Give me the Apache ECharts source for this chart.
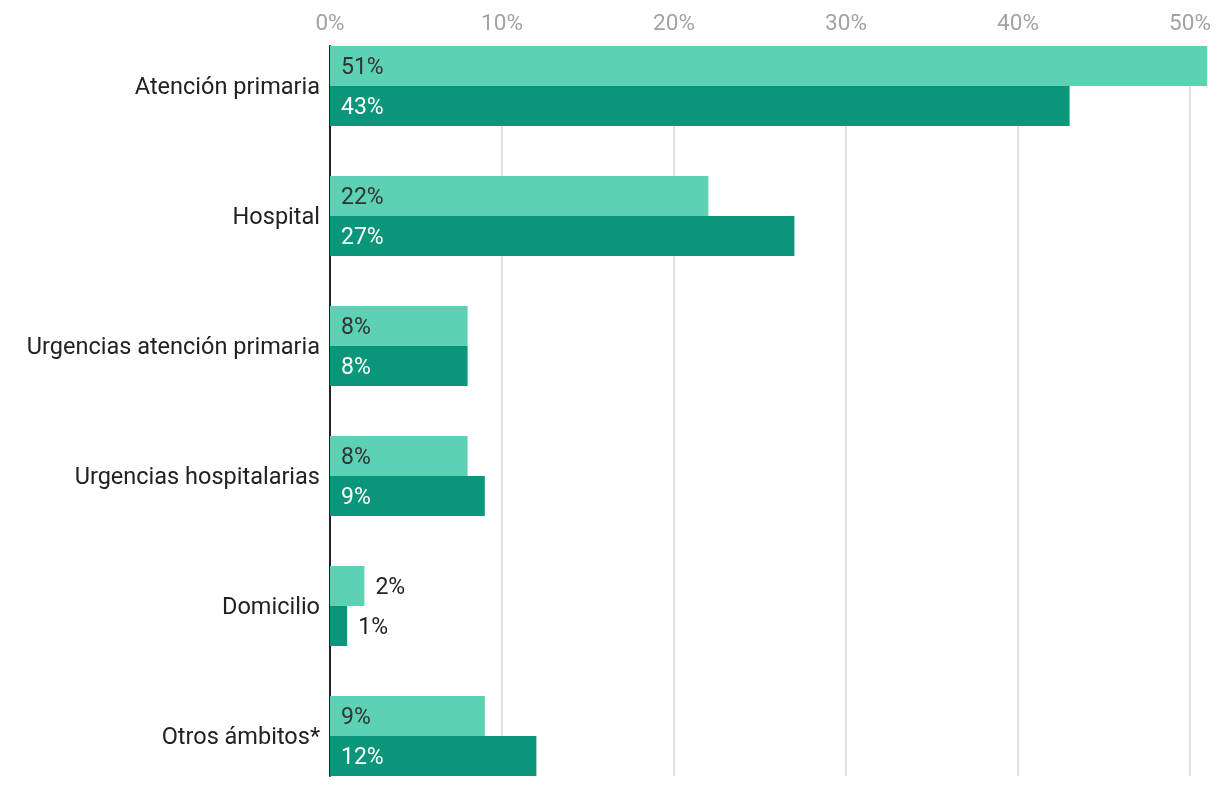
<!DOCTYPE html>
<html><head><meta charset="utf-8">
<script src="https://cdn.jsdelivr.net/npm/echarts@6/dist/echarts.min.js"></script>
<style>html,body{margin:0;padding:0;background:#fff}#c{width:1220px;height:786px}</style>
</head><body><div id="c"></div>
<script>
const categories = ['Atención primaria','Hospital','Urgencias atención primaria','Urgencias hospitalarias','Domicilio','Otros ámbitos*'];
const seriesLight = [51, 22, 8, 8, 2, 9];
const seriesDark = [43, 27, 8, 9, 1, 12];
const tickValues = [0, 10, 20, 30, 40, 50];

const FONT = 'Roboto';
function items(vals) {
  return vals.map(v => v < 4 ? {value: v, label: {position: 'right', color: '#222', distance: 11}} : {value: v});
}
const chart = echarts.init(document.getElementById('c'));
chart.setOption({
  animation: false,
  textStyle: {fontFamily: FONT},
  grid: [
    {left: 330, width: 877.2, top: 21, height: 780, outerBoundsMode: 'none', containLabel: false},
    {left: 330, width: 860, top: 46, bottom: 10, outerBoundsMode: 'none', containLabel: false}
  ],
  xAxis: [
    {gridIndex: 0, type: 'value', min: 0, max: 51, show: false},
    {gridIndex: 1, type: 'value', position: 'top', min: tickValues[0], max: tickValues[tickValues.length-1], interval: 10,
     axisLine: {show: false}, axisTick: {show: false},
     axisLabel: {formatter: '{value}%', color: '#a3a3a3', fontSize: 22.5, fontFamily: FONT, margin: 10},
     splitLine: {show: true, lineStyle: {color: '#e2e2e2', width: 2}}}
  ],
  yAxis: [
    {gridIndex: 0, type: 'category', inverse: true, data: categories,
     axisLine: {show: false}, axisTick: {show: false},
     axisLabel: {formatter: v => '{a|' + v + '}', margin: 10,
       rich: {a: {color: '#222', fontSize: 23.5, fontFamily: FONT, padding: [5, 0, 0, 0]}}},
     splitLine: {show: false}},
    {gridIndex: 1, type: 'value', min: 0, max: 1,
     axisLine: {show: true, lineStyle: {color: '#222', width: 2}},
     axisTick: {show: false}, axisLabel: {show: false}, splitLine: {show: false}}
  ],
  series: [
    {type: 'bar', xAxisIndex: 0, yAxisIndex: 0, data: items(seriesLight), barWidth: 40, barGap: '0%',
     itemStyle: {color: '#5cd1b3'}, z: 3,
     label: {show: true, position: 'insideLeft', distance: 11, offset: [0, 2.5], formatter: '{c}%', color: '#333', fontSize: 23, fontFamily: FONT}},
    {type: 'bar', xAxisIndex: 0, yAxisIndex: 0, data: items(seriesDark), barWidth: 40, barGap: '0%',
     itemStyle: {color: '#0a967a'}, z: 3,
     label: {show: true, position: 'insideLeft', distance: 11, offset: [0, 2.5], formatter: '{c}%', color: '#fff', fontSize: 23, fontFamily: FONT}}
  ]
});
</script></body></html>
